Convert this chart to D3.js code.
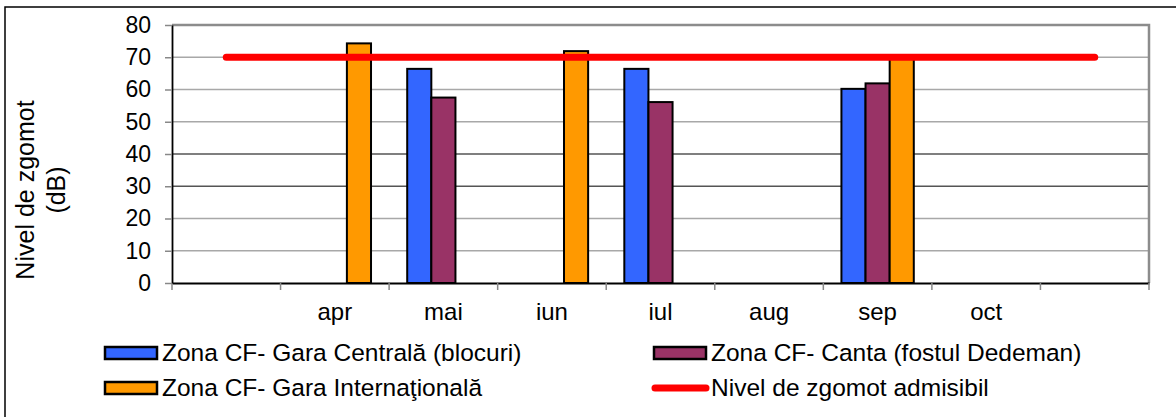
<!DOCTYPE html>
<html>
<head>
<meta charset="utf-8">
<script src="https://cdn.jsdelivr.net/npm/d3@7"></script>
<style>
  body { margin: 0; background: #fff; }
  svg { display: block; font-family: "Liberation Sans", Arial, sans-serif; }
</style>
</head>
<body>
<div class="chart"></div>
<script>
// Data
var months = ["", "apr", "mai", "iun", "iul", "aug", "sep", "oct", ""];
var gCentrala = [null, null, 66.4, null, 66.4, null, 60.2, null, null];
var canta = [null, null, 57.5, null, 56.1, null, 61.9, null, null];
var gInternationala = [null, 74.3, null, 71.9, null, null, 69.8, null, null];
var admisibil = [70, 70, 70, 70, 70, 70, 70, 70, 70];
var yTicks = [0, 10, 20, 30, 40, 50, 60, 70, 80];

var seriesNames = ["Zona CF- Gara Centrală (blocuri)", "Zona CF- Canta (fostul Dedeman)", "Zona CF- Gara Internaţională"];
var lineName = "Nivel de zgomot admisibil";
var colors = ["#3366ff", "#993366", "#ff9900"];

var svgWidth = 1176, svgHeight = 417;
var margin = {top: 25, right: 27, bottom: 134, left: 172};
var width = svgWidth - margin.left - margin.right;
var height = svgHeight - margin.top - margin.bottom;

var svg = d3.select(".chart")
  .append("svg")
  .attr("width", svgWidth)
  .attr("height", svgHeight);

// outer frame
svg.append("rect")
  .attr("x", 5).attr("y", 7)
  .attr("width", svgWidth + 10).attr("height", svgHeight + 10)
  .attr("fill", "none")
  .attr("stroke", "#000")
  .attr("stroke-width", 1.5);

var chartGroup = svg.append("g")
  .attr("transform", `translate(${margin.left}, ${margin.top})`);

// Scales
var xBand = d3.scaleBand()
  .domain(d3.range(months.length))
  .range([0, width]);
var xSub = d3.scaleBand()
  .domain([0, 1, 2])
  .range([0, xBand.bandwidth()])
  .paddingOuter(0.75);
var yLinearScale = d3.scaleLinear()
  .domain([0, 80])
  .range([height, 0]);

// gridlines (30 and 40 come out darker in the original)
chartGroup.selectAll(".grid")
  .data(yTicks.filter(t => t > 0 && t < 80))
  .enter()
  .append("line")
  .attr("x1", 0).attr("x2", width)
  .attr("y1", d => yLinearScale(d)).attr("y2", d => yLinearScale(d))
  .attr("stroke", d => (d == 30 || d == 40) ? "#555" : "#a8a8a8")
  .attr("stroke-width", 1.3);

// top / right border of plot area
chartGroup.append("path")
  .attr("d", `M0,${yLinearScale(80)}H${width}V${height}`)
  .attr("fill", "none")
  .attr("stroke", "#8c8c8c")
  .attr("stroke-width", 2.5);

// Bars
var allSeries = [gCentrala, canta, gInternationala];
allSeries.forEach((vals, s) => {
  chartGroup.selectAll(".bar-" + s)
    .data(vals.map((v, i) => ({i: i, v: v})).filter(d => d.v != null))
    .enter()
    .append("rect")
    .attr("class", "bar-" + s)
    .attr("x", d => xBand(d.i) + xSub(s))
    .attr("y", d => yLinearScale(d.v))
    .attr("width", xSub.bandwidth())
    .attr("height", d => height - yLinearScale(d.v))
    .attr("fill", colors[s])
    .attr("stroke", "#000")
    .attr("stroke-width", 2);
});

// Axes
var bottomAxis = d3.axisBottom(xBand).tickValues([]).tickSizeOuter(0);
var leftAxis = d3.axisLeft(yLinearScale).tickValues(yTicks).tickSize(7).tickPadding(14).tickSizeOuter(0);

var xAxisG = chartGroup.append("g")
  .attr("transform", `translate(0, ${height})`)
  .call(bottomAxis);
xAxisG.select(".domain").attr("stroke", "#000").attr("stroke-width", 1.8);

// tick marks between categories
chartGroup.selectAll(".xtick")
  .data(d3.range(months.length + 1))
  .enter()
  .append("line")
  .attr("x1", i => i * xBand.step()).attr("x2", i => i * xBand.step())
  .attr("y1", height).attr("y2", height + 7)
  .attr("stroke", "#888")
  .attr("stroke-width", 1.5);

// month labels
chartGroup.selectAll(".xlabel")
  .data(months)
  .enter()
  .append("text")
  .attr("x", (d, i) => xBand(i) + xBand.bandwidth() / 2)
  .attr("y", height + 37)
  .attr("text-anchor", "middle")
  .style("font-size", "24px")
  .style("fill", "#000")
  .text(d => d);

var yAxisG = chartGroup.append("g").call(leftAxis);
yAxisG.select(".domain").attr("stroke", "#000").attr("stroke-width", 1.8);
yAxisG.selectAll(".tick line").attr("stroke", "#888").attr("stroke-width", 1.5);
yAxisG.selectAll(".tick text")
  .style("font-size", "23px")
  .style("font-family", "Liberation Sans, Arial, sans-serif")
  .style("fill", "#000");

// Limit line
var lineGen = d3.line()
  .x((d, i) => xBand(i) + xBand.bandwidth() / 2)
  .y(d => yLinearScale(d));
chartGroup.append("path")
  .datum(admisibil)
  .attr("d", lineGen)
  .attr("fill", "none")
  .attr("stroke", "#ff0000")
  .attr("stroke-width", 7)
  .attr("stroke-linecap", "round");

// Y axis title
var yTitle = svg.append("text")
  .attr("transform", "translate(41, 190) rotate(-90)")
  .attr("text-anchor", "middle")
  .style("font-size", "25px")
  .style("fill", "#000");
yTitle.append("tspan").attr("x", 0).attr("dy", "-0.3em").text("Nivel de zgomot");
yTitle.append("tspan").attr("x", 0).attr("dy", "1.25em").text("(dB)");

// Legend
var legendItems = [
  {name: seriesNames[0], type: "bar", color: colors[0], x: 104, y: 353},
  {name: seriesNames[1], type: "bar", color: colors[1], x: 653, y: 353},
  {name: seriesNames[2], type: "bar", color: colors[2], x: 104, y: 388},
  {name: lineName, type: "line", color: "#ff0000", x: 653, y: 388}
];
var legend = svg.selectAll(".legend")
  .data(legendItems)
  .enter()
  .append("g")
  .attr("transform", d => `translate(${d.x}, ${d.y})`);
legend.filter(d => d.type == "bar")
  .append("rect")
  .attr("x", 1).attr("y", -6)
  .attr("width", 52).attr("height", 12)
  .attr("fill", d => d.color)
  .attr("stroke", "#000")
  .attr("stroke-width", 2.5);
legend.filter(d => d.type == "line")
  .append("line")
  .attr("x1", 2).attr("x2", 53)
  .attr("y1", 0).attr("y2", 0)
  .attr("stroke", d => d.color)
  .attr("stroke-width", 7)
  .attr("stroke-linecap", "round");
legend.append("text")
  .attr("x", 58)
  .attr("y", 8)
  .style("font-size", "24.5px")
  .style("fill", "#000")
  .text(d => d.name);
</script>
</body>
</html>
